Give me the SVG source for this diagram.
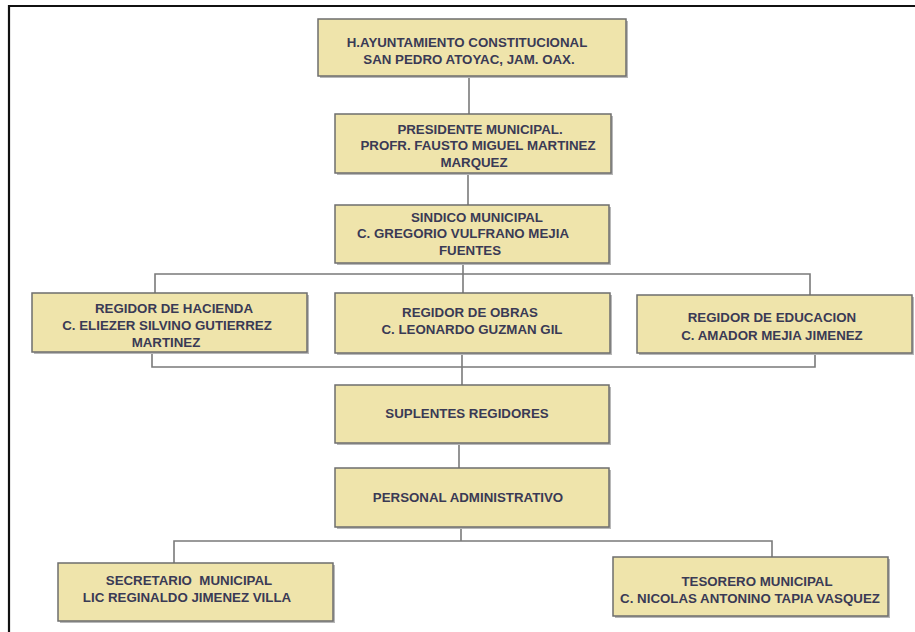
<svg xmlns="http://www.w3.org/2000/svg" width="915" height="632" viewBox="0 0 915 632">
<style>
  .box { fill: #efe4ab; stroke: #6e6e6e; stroke-width: 1.5; }
  .shadow { fill: #b8b8b8; }
  .t { font-family: "Liberation Sans", Arial, sans-serif; font-weight: bold; font-size: 13.3px; fill: #3a3a55; text-anchor: middle; }
  .c { fill: none; stroke: #7a7a7a; stroke-width: 1.6; }
</style>
<rect x="0" y="0" width="915" height="632" fill="#ffffff"/>
<polyline points="9,632 9,6 915,6" fill="none" stroke="#111111" stroke-width="2.2"/>

<g id="connectors">
  <line class="c" x1="469" y1="76" x2="469" y2="114"/>
  <line class="c" x1="468" y1="173" x2="468" y2="205"/>
  <line class="c" x1="463" y1="263" x2="463" y2="293"/>
  <polyline class="c" points="155,293 155,274 810,274 810,295"/>
  <polyline class="c" points="152,352 152,367 815,367 815,353"/>
  <line class="c" x1="462" y1="353" x2="462" y2="385"/>
  <line class="c" x1="459" y1="443" x2="459" y2="468"/>
  <line class="c" x1="461" y1="527" x2="461" y2="541"/>
  <polyline class="c" points="174,563 174,541 772,541 772,557"/>
</g>

<g id="ayuntamiento">
  <rect class="shadow" x="320" y="21" width="308" height="57"/>
  <rect class="box" x="318" y="19" width="308" height="57"/>
  <text class="t" x="467" y="47">H.AYUNTAMIENTO CONSTITUCIONAL</text>
  <text class="t" x="469" y="64">SAN PEDRO ATOYAC, JAM. OAX.</text>
</g>

<g id="presidente">
  <rect class="shadow" x="337" y="116" width="276" height="59"/>
  <rect class="box" x="335" y="114" width="276" height="59"/>
  <text class="t" x="480" y="134">PRESIDENTE MUNICIPAL.</text>
  <text class="t" x="478" y="150">PROFR. FAUSTO MIGUEL MARTINEZ</text>
  <text class="t" x="474" y="167">MARQUEZ</text>
</g>

<g id="sindico">
  <rect class="shadow" x="337" y="207" width="274" height="58"/>
  <rect class="box" x="335" y="205" width="274" height="58"/>
  <text class="t" x="477" y="222">SINDICO MUNICIPAL</text>
  <text class="t" x="463" y="238">C. GREGORIO VULFRANO MEJIA</text>
  <text class="t" x="470" y="255">FUENTES</text>
</g>

<g id="hacienda">
  <rect class="shadow" x="34" y="295" width="275" height="59"/>
  <rect class="box" x="32" y="293" width="275" height="59"/>
  <text class="t" x="174" y="313">REGIDOR DE HACIENDA</text>
  <text class="t" x="167" y="330">C. ELIEZER SILVINO GUTIERREZ</text>
  <text class="t" x="166" y="347">MARTINEZ</text>
</g>

<g id="obras">
  <rect class="shadow" x="337" y="295" width="275" height="60"/>
  <rect class="box" x="335" y="293" width="275" height="60"/>
  <text class="t" x="470" y="317">REGIDOR DE OBRAS</text>
  <text class="t" x="472" y="334">C. LEONARDO GUZMAN GIL</text>
</g>

<g id="educacion">
  <rect class="shadow" x="639" y="297" width="275" height="58"/>
  <rect class="box" x="637" y="295" width="275" height="58"/>
  <text class="t" x="772" y="322">REGIDOR DE EDUCACION</text>
  <text class="t" x="772" y="340">C. AMADOR MEJIA JIMENEZ</text>
</g>

<g id="suplentes">
  <rect class="shadow" x="337" y="387" width="274" height="58"/>
  <rect class="box" x="335" y="385" width="274" height="58"/>
  <text class="t" x="467" y="418">SUPLENTES REGIDORES</text>
</g>

<g id="personal">
  <rect class="shadow" x="337" y="470" width="274" height="59"/>
  <rect class="box" x="335" y="468" width="274" height="59"/>
  <text class="t" x="468" y="502">PERSONAL ADMINISTRATIVO</text>
</g>

<g id="secretario">
  <rect class="shadow" x="60" y="565" width="275" height="58"/>
  <rect class="box" x="58" y="563" width="275" height="58"/>
  <text class="t" x="189" y="585" xml:space="preserve">SECRETARIO  MUNICIPAL</text>
  <text class="t" x="187" y="602">LIC REGINALDO JIMENEZ VILLA</text>
</g>

<g id="tesorero">
  <rect class="shadow" x="615" y="559" width="275" height="59"/>
  <rect class="box" x="613" y="557" width="275" height="59"/>
  <text class="t" x="757" y="586">TESORERO MUNICIPAL</text>
  <text class="t" x="750" y="603">C. NICOLAS ANTONINO TAPIA VASQUEZ</text>
</g>
</svg>
